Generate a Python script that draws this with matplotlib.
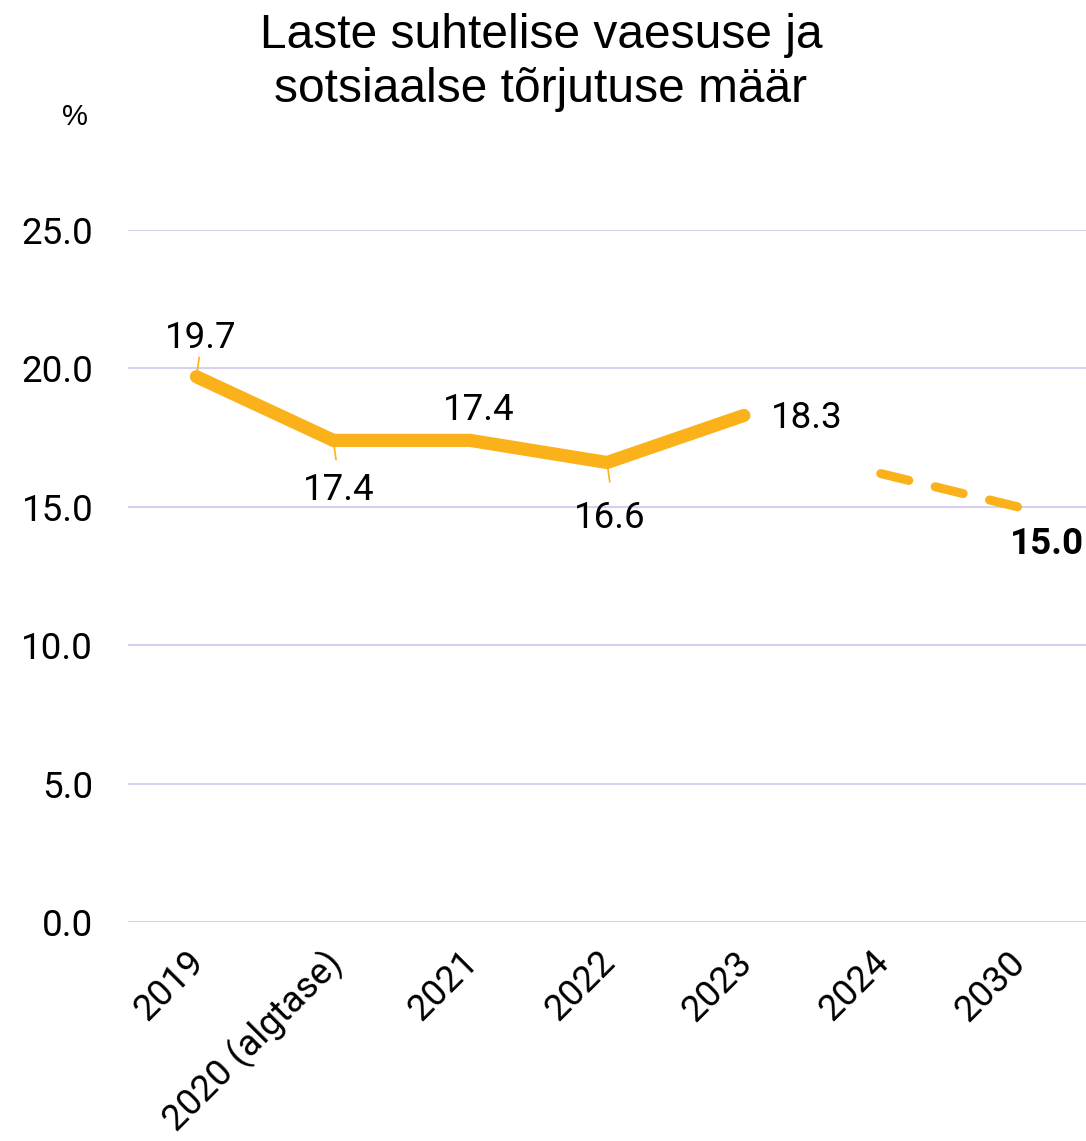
import matplotlib
matplotlib.use("Agg")
import matplotlib.pyplot as plt
import matplotlib.transforms as mtransforms

categories = ["2019", "2020 (algtase)", "2021", "2022", "2023", "2024", "2030"]
actual_idx = [0, 1, 2, 3, 4]
actual_vals = [19.7, 17.4, 17.4, 16.6, 18.3]
target_idx = [5, 6]
target_vals = [16.2, 15.0]
yticks = [0.0, 5.0, 10.0, 15.0, 20.0, 25.0]

COLOR = "#FBB21A"
GRID = "#D6D1F0"
FS = 26.5

fig = plt.figure(figsize=(10.86, 11.41), dpi=100)
ax = fig.add_axes([128/1086, (1141-922)/1141, (1086-128)/1086, (922-230)/1141])
ax.set_xlim(-0.5, 6.5)
ax.set_ylim(0, 25)
for s in ax.spines.values():
    s.set_visible(False)
ax.set_yticks(yticks)
ax.set_yticklabels([f"{v:.1f}" for v in yticks], fontfamily="Roboto", fontsize=FS)
ax.set_xticks(range(len(categories)))
ax.set_xticklabels(categories, rotation=45, ha="right", rotation_mode="anchor",
                   fontfamily="Roboto", fontsize=FS)
ax.tick_params(length=0)
ax.tick_params(axis="y", pad=25)
ax.tick_params(axis="x", pad=16)
shift = mtransforms.ScaledTranslation(-10/100, 0, fig.dpi_scale_trans)
for t in ax.get_xticklabels():
    t.set_transform(t.get_transform() + shift)
ax.grid(axis="y", color=GRID, linewidth=1.5)
ax.set_axisbelow(True)

ax.plot(actual_idx, actual_vals, color=COLOR, linewidth=9.5, solid_capstyle="round",
        solid_joinstyle="miter", clip_on=False, zorder=3)
ax.plot(target_idx, target_vals, color=COLOR, linewidth=6.5, linestyle=(0, (3.2, 3.0)),
        dash_capstyle="round", clip_on=False, zorder=3)

lab = dict(fontfamily="Roboto", fontsize=FS, color="black")
offsets = [(3, 28), (4, -36), (6, 22), (2, -40), (45, -2)]
leaders = [True, True, False, True, False]
for i, (x, v) in enumerate(zip(actual_idx, actual_vals)):
    dx, dy = offsets[i]
    ax.annotate(f"{v:.1f}", (x, v), xytext=(dx, dy), textcoords="offset points",
                ha="center", va="center", **lab)
    if leaders[i]:
        sgn = 1 if dy > 0 else -1
        ax.annotate("", (x, v), xytext=(2, sgn * 14),
                    textcoords="offset points",
                    arrowprops=dict(arrowstyle="-", color=COLOR, lw=1.2, shrinkA=0, shrinkB=0))
ax.annotate(f"{target_vals[-1]:.1f}", (target_idx[-1], target_vals[-1]), xytext=(21, -27),
            textcoords="offset points", ha="center", va="center",
            fontfamily="Roboto", fontsize=FS, fontweight="bold", annotation_clip=False)

fig.text(541/1086, 1 - 35/1141, "Laste suhtelise vaesuse ja", ha="center", va="center",
         fontfamily="Liberation Sans", fontsize=34.5)
fig.text(541/1086, 1 - 90/1141, "sotsiaalse tõrjutuse määr", ha="center", va="center",
         fontfamily="Liberation Sans", fontsize=34.5)
fig.text(75/1086, 1 - 117/1141, "%", ha="center", va="center",
         fontfamily="Liberation Sans", fontsize=21)

fig.savefig("out.png", dpi=100)
